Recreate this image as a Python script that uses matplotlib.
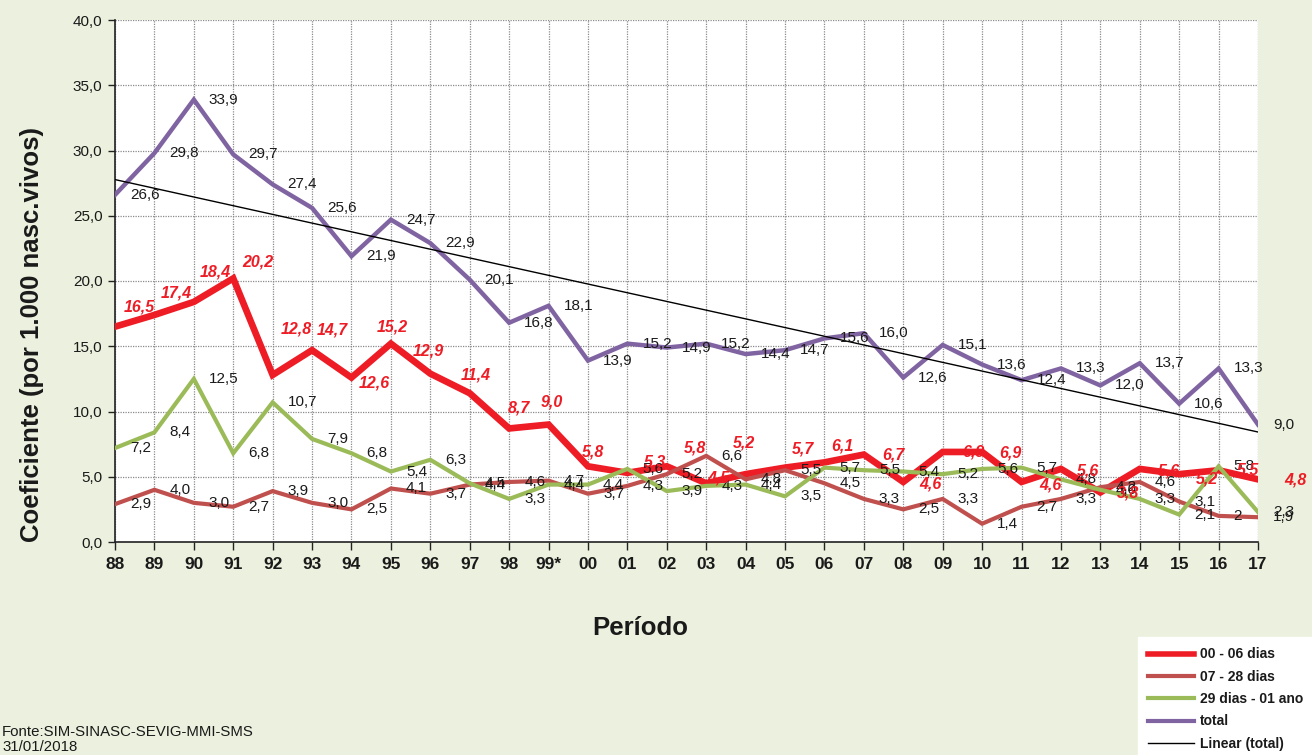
import matplotlib
matplotlib.use("Agg")
import matplotlib.pyplot as plt
from matplotlib.lines import Line2D
import numpy as np

# ---------------- data ----------------
periods = ['88', '89', '90', '91', '92', '93', '94', '95', '96', '97', '98', '99*',
           '00', '01', '02', '03', '04', '05', '06', '07', '08', '09', '10', '11',
           '12', '13', '14', '15', '16', '17']
d00_06 = [16.5, 17.4, 18.4, 20.2, 12.8, 14.7, 12.6, 15.2, 12.9, 11.4, 8.7, 9.0,
          5.8, 5.3, 5.8, 4.5, 5.2, 5.7, 6.1, 6.7, 4.6, 6.9, 6.9, 4.6,
          5.6, 3.8, 5.6, 5.2, 5.5, 4.8]
d07_28 = [2.9, 4.0, 3.0, 2.7, 3.9, 3.0, 2.5, 4.1, 3.7, 4.4, 4.6, 4.7,
          3.7, 4.3, 5.2, 6.6, 4.8, 5.5, 4.5, 3.3, 2.5, 3.3, 1.4, 2.7,
          3.3, 4.2, 4.6, 3.1, 2, 1.9]
d29_1ano = [7.2, 8.4, 12.5, 6.8, 10.7, 7.9, 6.8, 5.4, 6.3, 4.5, 3.3, 4.4,
            4.4, 5.6, 3.9, 4.3, 4.4, 3.5, 5.7, 5.5, 5.4, 5.2, 5.6, 5.7,
            4.8, 4.0, 3.3, 2.1, 5.8, 2.3]
total = [26.6, 29.8, 33.9, 29.7, 27.4, 25.6, 21.9, 24.7, 22.9, 20.1, 16.8, 18.1,
         13.9, 15.2, 14.9, 15.2, 14.4, 14.7, 15.6, 16.0, 12.6, 15.1, 13.6, 12.4,
         13.3, 12.0, 13.7, 10.6, 13.3, 9.0]
series_names = ['00 - 06 dias', '07 - 28 dias', '29 dias - 01 ano', 'total']

# label offsets (pixels) for the red series labels
red_offsets = [(24, 20), (22, 22), (21, 30), (25, 16), (24, 46), (20, 20), (23, -5),
               (1, 17), (-2, 23), (6, 18), (10, 20), (3, 23), (5, 14), (28, 11),
               (28, 18), (12, 5), (-2, 31), (18, 19), (18, 16), (30, 0), (27, -2),
               (31, 0), (28, -1), (29, -3), (27, -2), (28, -1), (29, -2), (28, -5),
               (29, 0), (37, -1)]

# ---------------- style ----------------
BG = '#EBF1DE'
C_RED = '#EE1C25'
C_BROWN = '#C0504D'
C_GREEN = '#9BBB59'
C_PURPLE = '#8064A2'
TXT = '#1a1a1a'
FONT = 'Liberation Sans'
plt.rcParams['font.family'] = [FONT, 'DejaVu Sans']


def fmt(v):
    if isinstance(v, int):
        return str(v)
    return f"{v:.1f}".replace('.', ',')


W, H = 1312, 755
fig = plt.figure(figsize=(W / 100, H / 100), dpi=100, facecolor=BG)
ax = fig.add_axes([115 / W, 1 - 542 / H, (1258 - 115) / W, (542 - 20) / H])
ax.set_facecolor('white')

x = np.arange(len(periods))

ax.plot(x, d00_06, color=C_RED, lw=4.8, solid_joinstyle='miter', zorder=3)
ax.plot(x, d07_28, color=C_BROWN, lw=3.0, solid_joinstyle='miter', zorder=4)
ax.plot(x, d29_1ano, color=C_GREEN, lw=3.0, solid_joinstyle='miter', zorder=5)
ax.plot(x, total, color=C_PURPLE, lw=3.2, solid_joinstyle='miter', zorder=6)

coef = np.polyfit(x, total, 1)
ax.plot(x, np.polyval(coef, x), color='black', lw=1.0, zorder=7)

# data labels
for series in (d07_28, d29_1ano, total):
    for xi, v in zip(x, series):
        ax.annotate(fmt(v), (xi, v), xytext=(15, 0), textcoords='offset pixels',
                    ha='left', va='center', fontsize=11, color=TXT, zorder=10)
for xi, v, (dx, dy) in zip(x, d00_06, red_offsets):
    ax.annotate(fmt(v), (xi, v), xytext=(dx, dy), textcoords='offset pixels',
                ha='center', va='center', fontsize=11.5, color=C_RED,
                fontweight='bold', fontstyle='italic', zorder=11)

ax.set_xlim(0, len(periods) - 1)
ax.set_ylim(0, 40)
ax.set_yticks(np.arange(0, 40.1, 5))
ax.set_yticklabels([fmt(float(t)) for t in np.arange(0, 40.1, 5)], fontsize=11,
                   color=TXT)
ax.set_xticks(x)
ax.set_xticklabels(periods, fontsize=12.5, fontweight='bold', color=TXT)
ax.tick_params(axis='y', length=5, width=1, pad=4, color='#222222')
ax.tick_params(axis='x', length=6, width=1, pad=5, color='#222222')

ax.grid(True, color='#8a8a8a', lw=0.9, linestyle=(0, (1, 1)), zorder=1)
ax.set_axisbelow(True)
for s in ('top', 'right'):
    ax.spines[s].set_visible(False)
for s in ('left', 'bottom'):
    ax.spines[s].set_color('#222222')
    ax.spines[s].set_linewidth(1.2)

fig.text(640 / W, 1 - 628 / H, 'Período', fontsize=18.5, fontweight='bold',
         ha='center', va='center', color=TXT)
fig.text(32 / W, 1 - 335 / H, 'Coeficiente (por 1.000 nasc.vivos)', fontsize=18.5,
         fontweight='bold', rotation=90, ha='center', va='center', color=TXT)

fig.text(2 / W, 1 - 732 / H, 'Fonte:SIM-SINASC-SEVIG-MMI-SMS', fontsize=10.8,
         ha='left', va='center', color=TXT)
fig.text(2 / W, 1 - 747 / H, '31/01/2018', fontsize=10.8,
         ha='left', va='center', color=TXT)

handles = [Line2D([], [], color=C_RED, lw=4),
           Line2D([], [], color=C_BROWN, lw=3),
           Line2D([], [], color=C_GREEN, lw=3),
           Line2D([], [], color=C_PURPLE, lw=3),
           Line2D([], [], color='black', lw=1)]
labels = series_names + ['Linear (total)']
leg = fig.legend(handles, labels, loc='upper left',
                 bbox_to_anchor=(1138 / W, 1 - 637 / H), frameon=True,
                 fancybox=False, framealpha=1, edgecolor='white', facecolor='white',
                 prop={'family': FONT, 'weight': 'bold', 'size': 10},
                 handlelength=3.3, handletextpad=0.4, labelspacing=0.6,
                 borderpad=0.75, borderaxespad=0)
for t in leg.get_texts():
    t.set_color(TXT)

fig.savefig('out.png', dpi=100, facecolor=BG)
